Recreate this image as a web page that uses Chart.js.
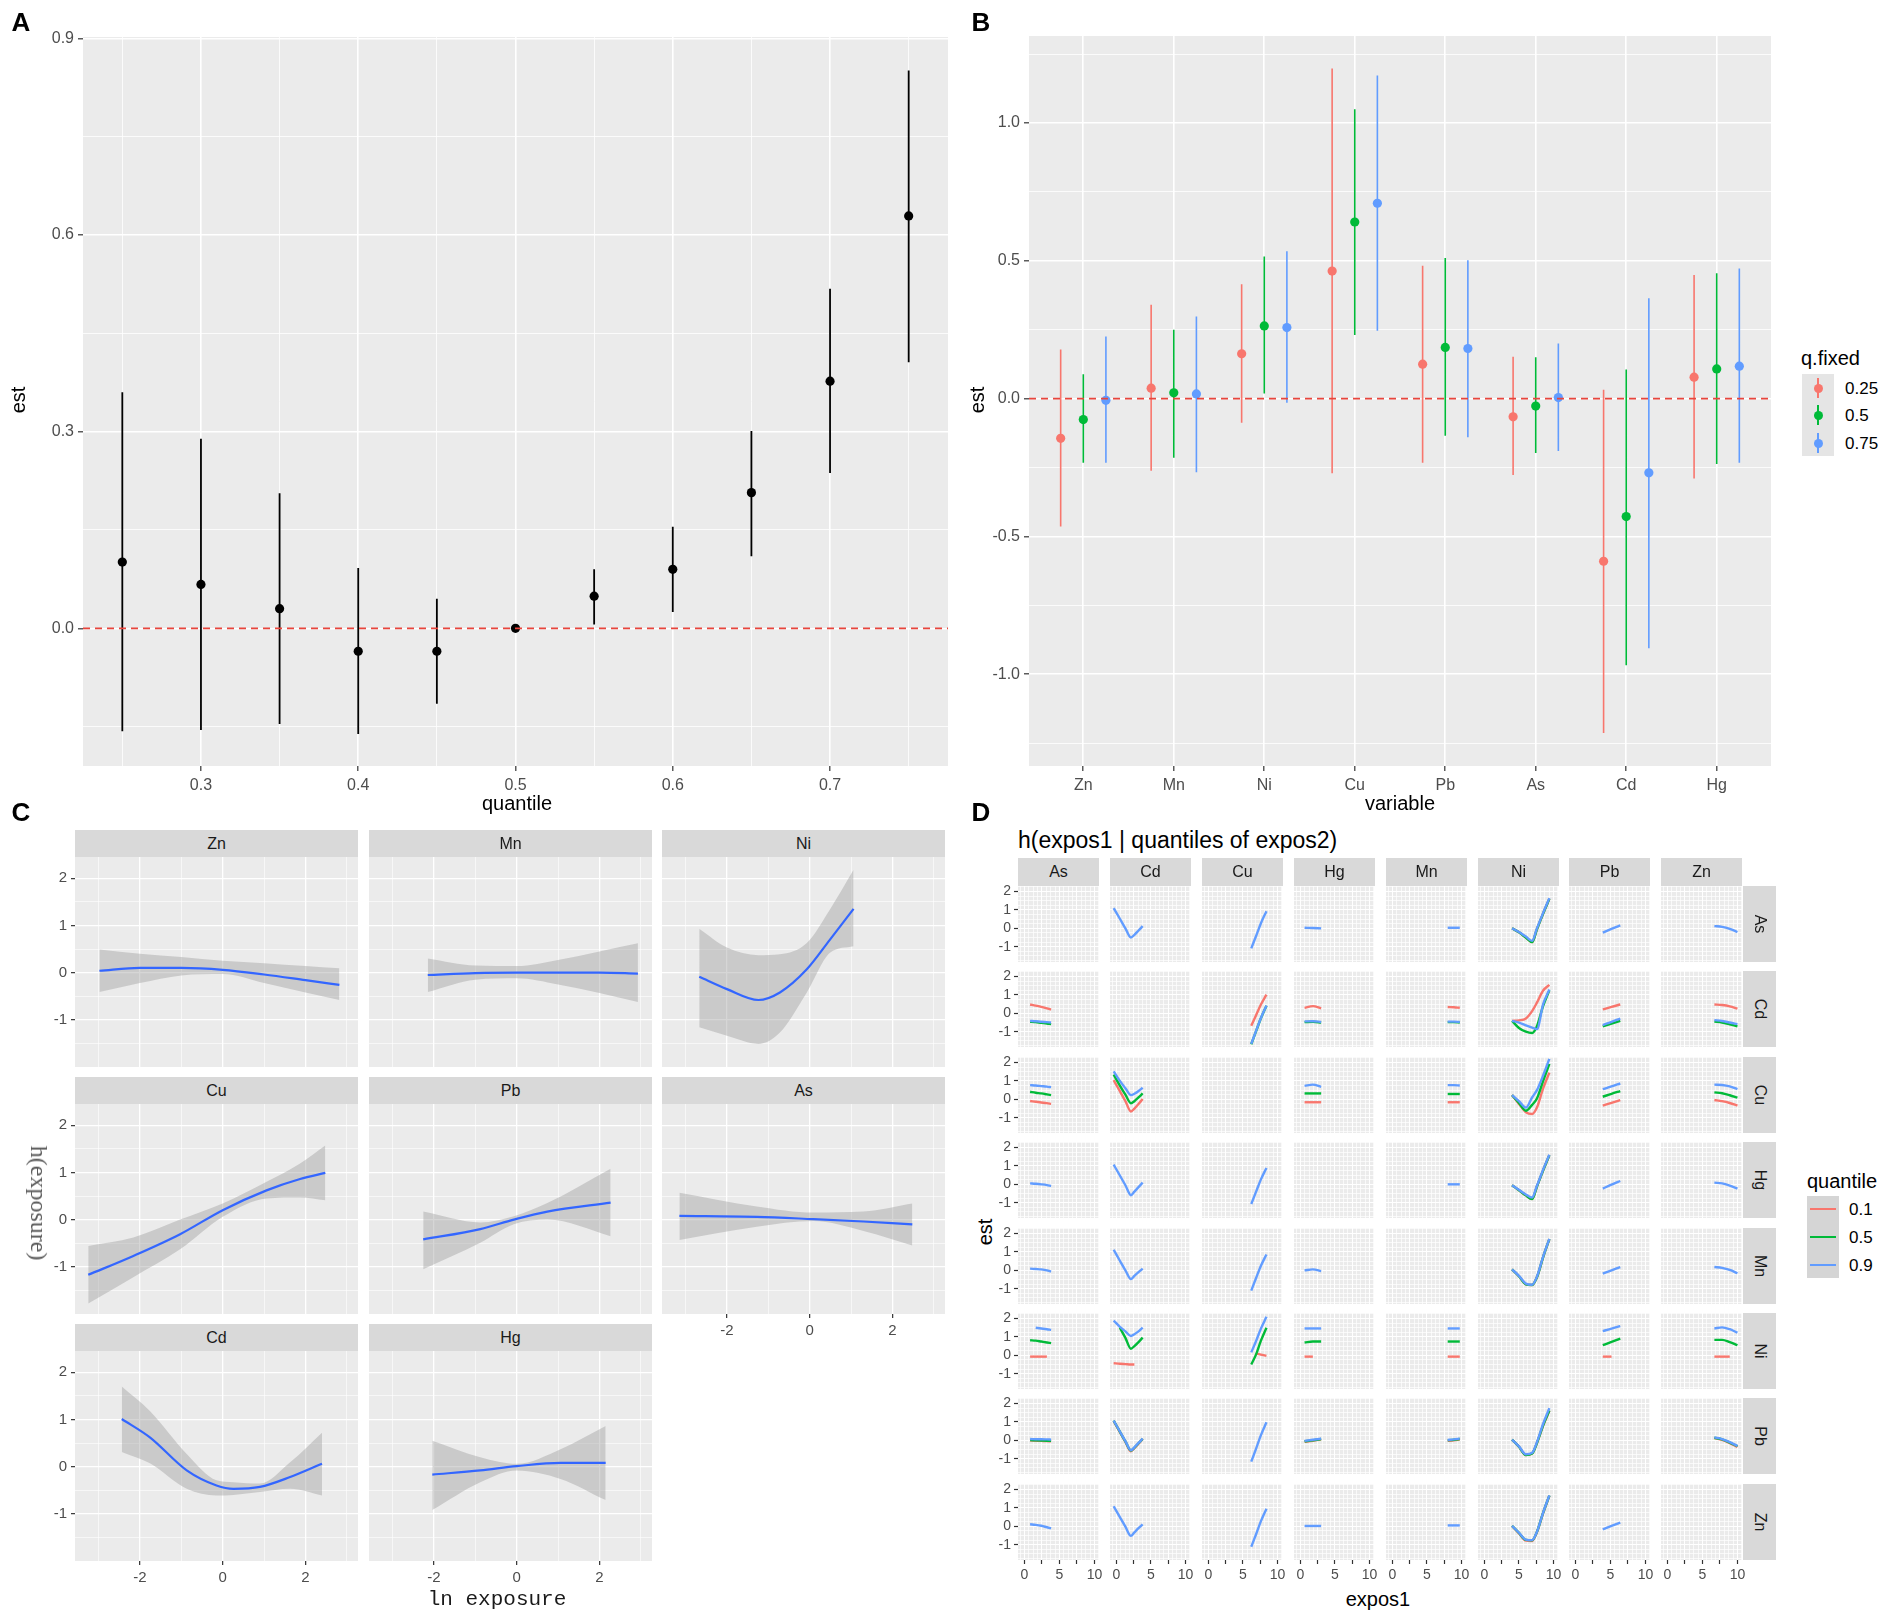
<!DOCTYPE html>
<html><head><meta charset="utf-8">
<script src="https://cdn.jsdelivr.net/npm/chart.js@4.4.1/dist/chart.umd.min.js"></script>
<style>
html,body{margin:0;padding:0;background:#fff;}
body{width:1901px;height:1622px;position:relative;overflow:hidden;font-family:"Liberation Sans",Arial,sans-serif;}
canvas{position:absolute;}
.t{position:absolute;white-space:nowrap;line-height:1;}
.box{position:absolute;}
</style></head><body>
<script>
// ================= DATA =================
// Panel A
const aQuantile = [0.25,0.30,0.35,0.40,0.45,0.50,0.55,0.60,0.65,0.70,0.75];
const aEst   = [0.101,0.067,0.030,-0.035,-0.035,0.000,0.049,0.090,0.207,0.377,0.629];
const aLower = [-0.157,-0.155,-0.146,-0.161,-0.115,0.000,0.006,0.025,0.110,0.237,0.406];
const aUpper = [0.360,0.289,0.206,0.092,0.045,0.000,0.090,0.155,0.301,0.518,0.851];
const aXTicks = [0.3,0.4,0.5,0.6,0.7];
const aYTicks = [0.0,0.3,0.6,0.9];

// Panel B
const bVariables = ['Zn','Mn','Ni','Cu','Pb','As','Cd','Hg'];
const bQFixed = ['0.25','0.5','0.75'];
const bEst_q25 = [-0.144,0.038,0.163,0.463,0.125,-0.066,-0.590,0.078];
const bLow_q25 = [-0.464,-0.262,-0.087,-0.271,-0.233,-0.277,-1.213,-0.290];
const bUp_q25  = [0.178,0.341,0.415,1.198,0.482,0.152,0.032,0.449];
const bEst_q50 = [-0.076,0.021,0.264,0.641,0.186,-0.027,-0.428,0.108];
const bLow_q50 = [-0.233,-0.214,0.019,0.231,-0.135,-0.197,-0.967,-0.237];
const bUp_q50  = [0.089,0.250,0.516,1.050,0.510,0.150,0.106,0.455];
const bEst_q75 = [-0.006,0.017,0.258,0.709,0.182,0.004,-0.269,0.118];
const bLow_q75 = [-0.233,-0.267,-0.015,0.246,-0.140,-0.190,-0.906,-0.233];
const bUp_q75  = [0.226,0.298,0.535,1.173,0.502,0.200,0.364,0.472];
const bYTicks = [-1.0,-0.5,0.0,0.5,1.0];

// Panel C (ln exposure, h(exposure), ribbon lower/upper)
const cFacets = ['Zn','Mn','Ni','Cu','Pb','As','Cd','Hg'];
const cZn_x  = [-2.98,-2,-1,0,1,2,2.82];
const cZn_h  = [0.04,0.10,0.10,0.06,-0.04,-0.16,-0.26];
const cZn_lo = [-0.41,-0.22,-0.06,-0.03,-0.22,-0.42,-0.58];
const cZn_hi = [0.49,0.40,0.33,0.25,0.20,0.14,0.09];
const cMn_x  = [-2.15,-1,0,1,2,2.93];
const cMn_h  = [-0.05,-0.01,0.00,0.00,0.00,-0.02];
const cMn_lo = [-0.41,-0.15,-0.12,-0.25,-0.43,-0.62];
const cMn_hi = [0.30,0.15,0.14,0.27,0.45,0.62];
const cNi_x  = [-2.67,-2.0,-1.24,-0.72,-0.07,0.49,1.06];
const cNi_h  = [-0.09,-0.35,-0.58,-0.42,0.07,0.70,1.35];
const cNi_lo = [-1.16,-1.34,-1.51,-1.27,-0.42,0.42,0.56];
const cNi_hi = [0.93,0.53,0.37,0.39,0.63,1.34,2.18];
const cCu_x  = [-3.25,-2.16,-1.03,0,1.06,1.87,2.48];
const cCu_h  = [-1.17,-0.77,-0.31,0.20,0.62,0.86,0.99];
const cCu_lo = [-1.78,-1.22,-0.63,0.06,0.45,0.47,0.41];
const cCu_hi = [-0.56,-0.38,0.00,0.34,0.80,1.19,1.57];
const cPb_x  = [-2.26,-0.88,-0.07,0.74,2.27];
const cPb_h  = [-0.42,-0.20,0.00,0.17,0.36];
const cPb_lo = [-1.05,-0.49,-0.10,0.00,-0.35];
const cPb_hi = [0.17,-0.06,0.07,0.35,1.08];
const cAs_x  = [-3.15,-1.28,0.09,1.30,2.48];
const cAs_h  = [0.08,0.06,0.01,-0.04,-0.10];
const cAs_lo = [-0.43,-0.15,-0.03,-0.24,-0.55];
const cAs_hi = [0.57,0.28,0.15,0.17,0.34];
const cCd_x  = [-2.44,-1.76,-0.87,-0.15,0.26,0.90,1.63,2.40];
const cCd_h  = [1.01,0.62,-0.08,-0.40,-0.47,-0.43,-0.22,0.06];
const cCd_lo = [0.31,0.07,-0.47,-0.61,-0.60,-0.54,-0.47,-0.61];
const cCd_hi = [1.70,1.18,0.27,-0.29,-0.33,-0.36,0.09,0.72];
const cHg_x  = [-2.04,-0.88,0,1.06,2.15];
const cHg_h  = [-0.17,-0.08,0.01,0.08,0.08];
const cHg_lo = [-0.92,-0.33,-0.08,-0.26,-0.71];
const cHg_hi = [0.55,0.20,0.06,0.37,0.86];
const cXTicks = [-2,0,2];
const cYTicks = [-1,0,1,2];

// Panel D: h(expos1 | quantiles of expos2); columns = expos1, rows = expos2
const dVars = ['As','Cd','Cu','Hg','Mn','Ni','Pb','Zn'];
const dQuantiles = ['0.1','0.5','0.9'];
const dX_As = [0.8,1.6,2.4,3.2,3.8];
const dX_Cd = [-0.4,0.5,1.3,2.1,2.6,3.2,3.8];
const dX_Cu = [6.2,6.9,7.6,8.4];
const dX_Hg = [0.6,1.8,3.0];
const dX_Mn = [8.0,8.9,9.75];
const dX_Ni = [4.0,5.0,6.0,6.9,7.6,8.5,9.4];
const dX_Pb = [3.9,5.15,6.4];
const dX_Zn = [6.7,7.8,8.9,10.0];
// each facet: [q0.1, q0.5, q0.9]  or  [shared curve]  or null
const dRow_As = [
  null,
  [[1.10,0.52,0.00,-0.50,-0.35,-0.12,0.12]],
  [[-1.09,-0.42,0.28,0.93]],
  [[0.03,0.02,0.00]],
  [[0.03,0.03,0.03]],
  [[0.00,-0.22,-0.50,-0.75,-0.05,0.80,1.60],[0.00,-0.22,-0.50,-0.75,-0.05,0.80,1.60],[0.00,-0.20,-0.45,-0.68,0.00,0.84,1.64]],
  [[-0.23,-0.03,0.16]],
  [[0.12,0.08,-0.03,-0.20]]
];
const dRow_Cd = [
  [[0.48,0.42,0.35,0.27,0.20],[-0.46,-0.48,-0.52,-0.55,-0.59],[-0.41,-0.43,-0.46,-0.48,-0.50]],
  null,
  [[-0.68,-0.10,0.48,1.02],[-1.68,-0.97,-0.27,0.41],[-1.66,-0.95,-0.25,0.43]],
  [[0.30,0.39,0.27],[-0.48,-0.46,-0.50],[-0.44,-0.43,-0.47]],
  [[0.34,0.33,0.30],[-0.48,-0.48,-0.50],[-0.45,-0.45,-0.47]],
  [[-0.41,-0.38,-0.28,0.12,0.58,1.24,1.55],[-0.41,-0.80,-1.00,-1.07,-0.70,0.40,1.25],[-0.41,-0.50,-0.66,-0.78,-0.86,0.50,1.29]],
  [[0.21,0.35,0.48],[-0.71,-0.56,-0.41],[-0.64,-0.46,-0.29]],
  [[0.48,0.45,0.38,0.25],[-0.45,-0.50,-0.60,-0.71],[-0.37,-0.42,-0.50,-0.59]]
];
const dRow_Cu = [
  [[-0.09,-0.13,-0.17,-0.21,-0.25],[0.41,0.36,0.32,0.27,0.23],[0.77,0.75,0.72,0.69,0.66]],
  [[1.04,0.45,-0.10,-0.66,-0.50,-0.25,0.02],[1.34,0.75,0.25,-0.21,-0.10,0.10,0.32],[1.52,1.00,0.60,0.23,0.30,0.45,0.63]],
  null,
  [[-0.16,-0.16,-0.16],[0.32,0.32,0.32],[0.73,0.80,0.68]],
  [[-0.16,-0.16,-0.16],[0.29,0.29,0.29],[0.77,0.77,0.75]],
  [[0.23,-0.25,-0.70,-0.80,-0.45,0.60,1.45],[0.23,-0.20,-0.62,-0.30,0.05,1.00,1.93],[0.23,-0.10,-0.45,0.10,0.50,1.30,2.20]],
  [[-0.34,-0.19,-0.04],[0.14,0.30,0.45],[0.55,0.70,0.86]],
  [[-0.04,-0.10,-0.20,-0.34],[0.38,0.33,0.22,0.09],[0.80,0.78,0.70,0.55]]
];
const dRow_Hg = [
  [[0.05,0.03,0.00,-0.04,-0.09]],
  [[1.07,0.48,-0.05,-0.59,-0.40,-0.15,0.09]],
  [[-1.07,-0.40,0.27,0.89]],
  null,
  [[0.00,0.00,0.00]],
  [[-0.05,-0.32,-0.60,-0.80,-0.12,0.76,1.58],[-0.05,-0.32,-0.60,-0.80,-0.12,0.76,1.58],[-0.05,-0.30,-0.55,-0.72,-0.08,0.80,1.61]],
  [[-0.23,-0.02,0.18]],
  [[0.09,0.05,-0.07,-0.23]]
];
const dRow_Mn = [
  [[0.09,0.07,0.05,0.00,-0.07]],
  [[1.12,0.52,0.00,-0.48,-0.30,-0.10,0.09]],
  [[-1.10,-0.42,0.25,0.86]],
  [[0.00,0.05,-0.04]],
  null,
  [[0.05,-0.32,-0.76,-0.80,-0.38,0.72,1.70],[0.05,-0.32,-0.76,-0.80,-0.38,0.72,1.70],[0.05,-0.30,-0.72,-0.78,-0.35,0.75,1.71]],
  [[-0.18,0.00,0.18]],
  [[0.18,0.13,0.02,-0.16]]
];
const dRow_Ni = [
  [[-0.07,-0.07,-0.07,-0.07,null],[0.82,0.80,0.75,0.70,0.66],[null,1.50,1.46,1.42,1.38]],
  [[-0.43,-0.46,-0.48,-0.50,-0.50,null,null],[null,1.50,0.95,0.36,0.50,0.72,0.96],[1.89,1.55,1.30,1.05,1.15,1.30,1.50]],
  [[null,0.10,0.04,-0.03],[-0.50,0.05,0.80,1.50],[0.16,0.78,1.45,2.09]],
  [[-0.07,-0.07,null],[0.70,0.75,0.75],[1.46,1.46,1.46]],
  [[-0.07,-0.07,-0.07],[0.75,0.75,0.75],[1.46,1.46,1.46]],
  null,
  [[-0.07,-0.07,null],[0.55,0.73,0.91],[1.32,1.45,1.59]],
  [[-0.07,-0.07,-0.07,null],[0.84,0.84,0.72,0.55],[1.46,1.52,1.42,1.23]]
];
const dRow_Pb = [
  [[-0.01,-0.02,-0.03,-0.04,-0.06],[0.01,0.00,-0.01,-0.02,-0.03],[0.07,0.06,0.06,0.05,0.04]],
  [[1.05,0.45,-0.08,-0.60,-0.42,-0.18,0.07],[1.07,0.47,-0.06,-0.56,-0.40,-0.16,0.08],[1.07,0.48,-0.04,-0.54,-0.38,-0.14,0.09]],
  [[-1.16,-0.45,0.28,0.98]],
  [[-0.08,-0.02,0.05],[-0.05,0.00,0.07],[-0.03,0.03,0.09]],
  [[-0.03,0.00,0.05],[0.00,0.03,0.07],[0.02,0.05,0.09]],
  [[0.04,-0.35,-0.80,-0.72,-0.15,0.80,1.60],[0.04,-0.35,-0.80,-0.72,-0.15,0.82,1.62],[0.04,-0.33,-0.76,-0.68,-0.10,0.90,1.75]],
  null,
  [[0.12,0.02,-0.15,-0.36],[0.14,0.05,-0.12,-0.32],[0.16,0.07,-0.10,-0.30]]
];
const dRow_Zn = [
  [[0.11,0.08,0.03,-0.05,-0.11]],
  [[1.09,0.50,-0.02,-0.52,-0.33,-0.10,0.11]],
  [[-1.11,-0.43,0.28,0.96]],
  [[0.02,0.02,0.02]],
  [[0.05,0.05,0.05]],
  [[0.02,-0.38,-0.78,-0.80,-0.32,0.72,1.66],[0.02,-0.36,-0.74,-0.76,-0.30,0.74,1.67],[0.02,-0.35,-0.72,-0.75,-0.30,0.75,1.68]],
  [[-0.16,0.02,0.20]],
  null
];
const dYTicks = [-1,0,1,2];
const dXTicks = [0,5,10];
const dXTickMarks = [0,2.5,5,7.5,10];

// ================= STYLE / HELPERS =================
const FONT = "'Liberation Sans', Arial, Helvetica, sans-serif";
const TICK_COLOR = '#4D4D4D';
const GG = ['#F8766D','#00BA38','#619CFF'];
const near = (arr, v) => arr.some(t => Math.abs(t - v) < 1e-7);

Chart.register({
  id: 'panelBg',
  defaults: { color: '#EBEBEB' },
  beforeDraw(chart, args, opts) {
    const a = chart.chartArea, c = chart.ctx;
    c.save(); c.fillStyle = opts.color;
    c.fillRect(a.left, a.top, a.right - a.left, a.bottom - a.top);
    c.restore();
  }
});

function axis(a, isX, pad) {
  return {
    type: 'linear', min: a.min, max: a.max, offset: false,
    position: isX ? 'bottom' : 'left',
    afterBuildTicks: s => { s.ticks = a.grid.filter(v => v >= a.min - 1e-9 && v <= a.max + 1e-9).map(v => ({ value: v })); },
    afterFit: s => { if (isX) s.height = pad; else s.width = pad; s.paddingLeft = 0; s.paddingRight = 0; s.paddingTop = 0; s.paddingBottom = 0; },
    ticks: {
      display: !!a.show, autoSkip: false, maxRotation: 0, minRotation: 0,
      padding: a.tickPad ?? 4, color: TICK_COLOR, font: { family: FONT, size: a.fontSize || 16 },
      callback: (v) => { const i = a.labels.findIndex(t => Math.abs(t - v) < 1e-7); return i < 0 ? '' : a.texts[i]; }
    },
    grid: {
      color: '#FFFFFF',
      lineWidth: c => (c.tick && near(a.majors, c.tick.value)) ? a.majorW : a.minorW,
      drawTicks: !!a.show, tickLength: a.tickLen || 5, tickWidth: 1.2,
      tickColor: c => (c.tick && near(a.marks || a.majors, c.tick.value)) ? '#333333' : 'rgba(0,0,0,0)'
    },
    border: { display: false }
  };
}

function makePanel(o) {
  const padL = o.padL || 0, padB = o.padB || 0, padT = o.padT || 0, padR = o.padR || 0;
  const L = Math.round(o.left - padL), T = Math.round(o.top - padT);
  const W = Math.round(o.left + o.w + padR) - L, H = Math.round(o.top + o.h + padB) - T;
  const cv = document.createElement('canvas');
  cv.width = W; cv.height = H;
  cv.style.left = L + 'px'; cv.style.top = T + 'px'; cv.style.width = W + 'px'; cv.style.height = H + 'px';
  document.body.appendChild(cv);
  new Chart(cv, {
    type: 'line',
    data: { datasets: o.datasets },
    options: {
      responsive: false, animation: false, events: [],
      layout: { padding: { top: padT, right: padR, left: 0, bottom: 0 } },
      plugins: { legend: { display: false }, tooltip: { enabled: false } },
      scales: { x: axis(o.x, true, padB), y: axis(o.y, false, padL) }
    }
  });
}

const pts = (xs, ys) => xs.map((x, i) => ({ x, y: ys[i] }));
function lineDS(data, color, width, extra) {
  return Object.assign({ data, borderColor: color, borderWidth: width, pointRadius: 0, showLine: true, fill: false, spanGaps: false }, extra || {});
}
function errData(xs, lo, hi) {
  const out = [];
  xs.forEach((x, i) => { out.push({ x, y: lo[i] }, { x, y: hi[i] }, { x, y: null }); });
  return out;
}
function txt(s, x, y, o) {
  o = o || {};
  const d = document.createElement('div');
  d.className = 't'; d.textContent = s;
  d.style.left = x + 'px'; d.style.top = y + 'px';
  d.style.fontSize = (o.size || 16) + 'px';
  d.style.color = o.color || '#000';
  d.style.fontFamily = o.font || FONT;
  d.style.fontWeight = o.weight || 'normal';
  d.style.transform = `translate(${o.ax ?? -50}%,-50%) rotate(${o.rot || 0}deg)`;
  document.body.appendChild(d);
  return d;
}
function rect(x, y, w, h, bg) {
  const d = document.createElement('div');
  d.className = 'box';
  Object.assign(d.style, { left: x + 'px', top: y + 'px', width: w + 'px', height: h + 'px', background: bg });
  document.body.appendChild(d);
  return d;
}
function strip(label, x, y, w, h, size, rot) {
  const d = rect(x, y, w, h, '#D9D9D9');
  const s = document.createElement('div');
  s.textContent = label;
  Object.assign(s.style, { position: 'absolute', left: '50%', top: '50%', transform: `translate(-50%,-50%) rotate(${rot || 0}deg)`, fontSize: size + 'px', color: '#1A1A1A', whiteSpace: 'nowrap', lineHeight: '1', fontFamily: FONT });
  d.appendChild(s);
}

// ================= PANEL A =================
(function () {
  const xMin = 0.225, xMax = 0.775;
  makePanel({
    left: 83, top: 37, w: 865, h: 729, padL: 83, padB: 44, padT: 10, padR: 10,
    x: { min: xMin, max: xMax, grid: [0.25,0.3,0.35,0.4,0.45,0.5,0.55,0.6,0.65,0.7,0.75], majors: aXTicks, labels: aXTicks, texts: aXTicks.map(v => v.toFixed(1)), show: true, majorW: 1.6, minorW: 0.8, tickPad: 5 },
    y: { min: -0.21, max: 0.902, grid: [-0.15,0,0.15,0.3,0.45,0.6,0.75,0.9], majors: aYTicks, labels: aYTicks, texts: aYTicks.map(v => v.toFixed(1)), show: true, majorW: 1.6, minorW: 0.8, tickPad: 4 },
    datasets: [
      lineDS([{ x: xMin, y: 0 }, { x: xMax, y: 0 }], '#E8453C', 1.6, { borderDash: [7, 5], order: 0 }),
      Object.assign(lineDS(pts(aQuantile, aEst), '#000', 0), { showLine: false, pointRadius: 4.6, pointBackgroundColor: '#000', pointBorderWidth: 0, order: 1 }),
      lineDS(errData(aQuantile, aLower, aUpper), '#000', 1.8, { order: 2 })
    ]
  });
  txt('A', 21, 22, { size: 26, weight: 'bold' });
  txt('est', 18, 400, { size: 20, rot: -90 });
  txt('quantile', 517, 803, { size: 20 });
})();

// ================= PANEL B =================
(function () {
  const xMin = 0.4, xMax = 8.6;
  const bDodge = [-0.25, 0, 0.25];
  const est = [bEst_q25, bEst_q50, bEst_q75], lo = [bLow_q25, bLow_q50, bLow_q75], hi = [bUp_q25, bUp_q50, bUp_q75];
  const pos = bVariables.map((v, i) => i + 1);
  const ds = [lineDS([{ x: xMin, y: 0 }, { x: xMax, y: 0 }], '#E8453C', 1.6, { borderDash: [7, 5], order: 0 })];
  for (let k = 0; k < 3; k++) {
    const xs = pos.map(p => p + bDodge[k]);
    ds.push(Object.assign(lineDS(pts(xs, est[k]), GG[k], 0), { showLine: false, pointRadius: 4.6, pointBackgroundColor: GG[k], pointBorderWidth: 0, order: 1 }));
    ds.push(lineDS(errData(xs, lo[k], hi[k]), GG[k], 1.6, { order: 2 }));
  }
  makePanel({
    left: 1029, top: 36, w: 742, h: 730, padL: 60, padB: 44, padT: 10, padR: 10,
    x: { min: xMin, max: xMax, grid: pos, majors: pos, labels: pos, texts: bVariables, show: true, majorW: 1.6, minorW: 0.8, tickPad: 5 },
    y: { min: -1.333, max: 1.316, grid: [-1.25,-1,-0.75,-0.5,-0.25,0,0.25,0.5,0.75,1,1.25], majors: bYTicks, labels: bYTicks, texts: bYTicks.map(v => v.toFixed(1)), show: true, majorW: 1.6, minorW: 0.8, tickPad: 4 },
    datasets: ds
  });
  txt('B', 981, 22, { size: 26, weight: 'bold' });
  txt('est', 977, 400, { size: 20, rot: -90 });
  txt('variable', 1400, 803, { size: 20 });
  // legend
  txt('q.fixed', 1801, 358, { size: 20, ax: 0 });
  rect(1802, 374, 32, 82, '#E5E5E5');
  const ly = [388, 415, 443];
  for (let k = 0; k < 3; k++) {
    rect(1817.2, ly[k] - 10, 1.6, 20, GG[k]);
    const dot = rect(1813.5, ly[k] - 4.5, 9, 9, GG[k]); dot.style.borderRadius = '50%';
    txt(bQFixed[k], 1845, ly[k], { size: 17, ax: 0 });
  }
})();

// ================= PANEL C =================
(function () {
  const cData = {
    Zn: [cZn_x, cZn_h, cZn_lo, cZn_hi], Mn: [cMn_x, cMn_h, cMn_lo, cMn_hi], Ni: [cNi_x, cNi_h, cNi_lo, cNi_hi],
    Cu: [cCu_x, cCu_h, cCu_lo, cCu_hi], Pb: [cPb_x, cPb_h, cPb_lo, cPb_hi], As: [cAs_x, cAs_h, cAs_lo, cAs_hi],
    Cd: [cCd_x, cCd_h, cCd_lo, cCd_hi], Hg: [cHg_x, cHg_h, cHg_lo, cHg_hi]
  };
  const showX = { As: true, Cd: true, Hg: true };
  cFacets.forEach((name, idx) => {
    const col = idx % 3, row = Math.floor(idx / 3);
    const left = 75 + col * 293.5, top = 857 + row * 247, w = 283, h = 210;
    const [xs, hs, los, his] = cData[name];
    const sx = !!showX[name], sy = col === 0;
    makePanel({
      left, top, w, h, padL: sy ? 42 : 0, padB: sx ? 30 : 0, padT: 0, padR: 0,
      x: { min: -3.57, max: 3.27, grid: [-3,-2,-1,0,1,2,3], majors: cXTicks, labels: cXTicks, texts: cXTicks.map(String), show: sx, majorW: 1.3, minorW: 0.6, fontSize: 15, tickPad: 4, tickLen: 4 },
      y: { min: -2.0, max: 2.45, grid: [-1.5,-1,-0.5,0,0.5,1,1.5,2], majors: cYTicks, labels: cYTicks, texts: cYTicks.map(String), show: sy, majorW: 1.3, minorW: 0.6, fontSize: 15, tickPad: 4, tickLen: 4 },
      datasets: [
        lineDS(pts(xs, los), 'rgba(0,0,0,0)', 0, { order: 2, cubicInterpolationMode: 'monotone' }),
        lineDS(pts(xs, his), 'rgba(0,0,0,0)', 0, { order: 1, fill: '-1', backgroundColor: 'rgba(153,153,153,0.4)', cubicInterpolationMode: 'monotone' }),
        lineDS(pts(xs, hs), '#3366FF', 2.2, { order: 0, cubicInterpolationMode: 'monotone' })
      ]
    });
    strip(name, Math.round(left), top - 27, w, 27, 16, 0);
  });
  txt('C', 21, 812, { size: 26, weight: 'bold' });
  txt('h(exposure)', 39, 1203, { size: 24, rot: 90, font: "'Liberation Serif', 'Times New Roman', serif", color: '#5A5A5A' });
  txt('ln exposure', 497, 1599, { size: 21, font: "'Liberation Mono', 'Courier New', monospace", color: '#1A1A1A' });
})();

// ================= PANEL D =================
(function () {
  const dX = [dX_As, dX_Cd, dX_Cu, dX_Hg, dX_Mn, dX_Ni, dX_Pb, dX_Zn];
  const rows = [dRow_As, dRow_Cd, dRow_Cu, dRow_Hg, dRow_Mn, dRow_Ni, dRow_Pb, dRow_Zn];
  const xGrid = [], yGrid = [];
  for (let v = -0.625; v <= 10.63; v += 0.625) xGrid.push(+v.toFixed(4));
  for (let v = -1.75; v <= 2.26; v += 0.25) yGrid.push(+v.toFixed(4));
  const colL = c => 1018 + c * 91.9, rowT = r => 886 + r * 85.4;
  const W = 80.5, H = 76;
  for (let r = 0; r < 8; r++) {
    for (let c = 0; c < 8; c++) {
      const facet = rows[r][c];
      const ds = [];
      if (facet) {
        if (facet.length === 1) {
          ds.push(lineDS(pts(dX[c], facet[0]), GG[2], 2.4, { order: 0, cubicInterpolationMode: 'monotone' }));
        } else {
          for (let k = 0; k < 3; k++) ds.push(lineDS(pts(dX[c], facet[k]), GG[k], 2.4, { order: 2 - k, cubicInterpolationMode: 'monotone' }));
        }
      }
      const sx = r === 7, sy = c === 0;
      makePanel({
        left: colL(c), top: rowT(r), w: W, h: H, padL: sy ? 22 : 0, padB: sx ? 26 : 0, padT: sy ? 5 : 0, padR: sx ? 8 : 0,
        x: { min: -0.93, max: 10.65, grid: xGrid, majors: dXTickMarks, marks: dXTickMarks, labels: dXTicks, texts: dXTicks.map(String), show: sx, majorW: 1.0, minorW: 0.7, fontSize: 14, tickPad: 3, tickLen: 4 },
        y: { min: -1.83, max: 2.3, grid: yGrid, majors: dYTicks, labels: dYTicks, texts: dYTicks.map(String), show: sy, majorW: 1.0, minorW: 0.7, fontSize: 14, tickPad: 3, tickLen: 4 },
        datasets: ds
      });
    }
    strip(dVars[r], 1743, Math.round(rowT(r)), 33, H, 16, 90);
  }
  for (let c = 0; c < 8; c++) strip(dVars[c], Math.round(colL(c)), 858, 81, 28, 16, 0);
  txt('D', 981, 812, { size: 26, weight: 'bold' });
  txt('h(expos1 | quantiles of expos2)', 1018, 840, { size: 23, ax: 0 });
  txt('est', 985, 1232, { size: 20, rot: -90 });
  txt('expos1', 1378, 1599, { size: 20 });
  // legend
  txt('quantile', 1807, 1181, { size: 20, ax: 0 });
  rect(1807, 1196, 32, 82, '#D5D5D5');
  const ly = [1209, 1237, 1265];
  for (let k = 0; k < 3; k++) {
    rect(1810, ly[k] - 1.25, 26, 2.5, GG[k]);
    txt(dQuantiles[k], 1849, ly[k], { size: 17, ax: 0 });
  }
})();
</script>
</body></html>
